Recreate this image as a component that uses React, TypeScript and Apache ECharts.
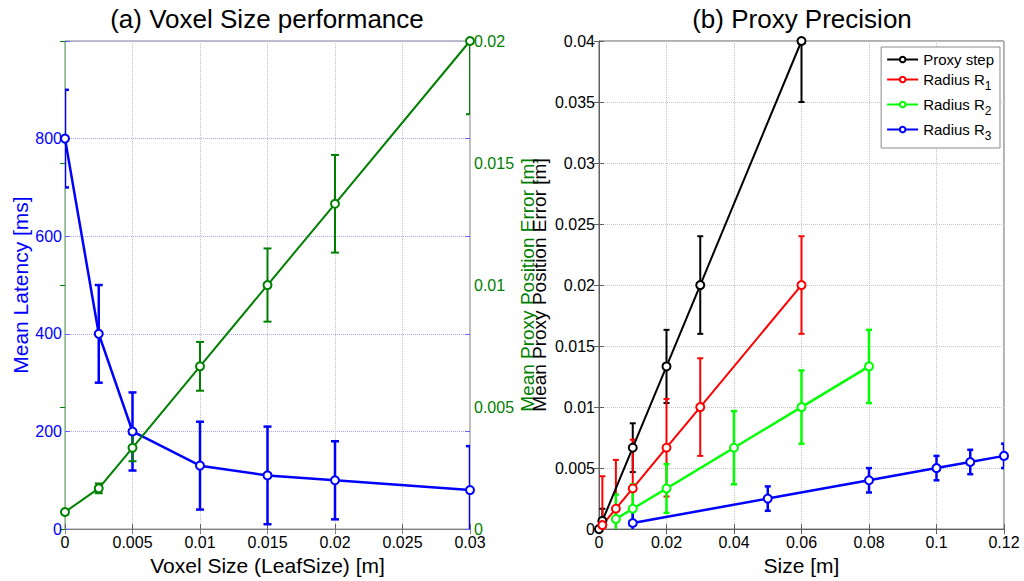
import React, { useEffect, useRef } from 'react';
import * as echarts from 'echarts';

// ---- (a) Voxel Size performance ----
const voxelSizes = [0, 0.0025, 0.005, 0.01, 0.015, 0.02, 0.03];
const latencyMean = [800, 400, 200, 130, 110, 100, 80];
const latencyErr = [100, 100, 80, 90, 100, 80, 90];
const posErrorMean = [0.0007, 0.00167, 0.00333, 0.00667, 0.01, 0.01333, 0.02];
const posErrorErr = [0, 0.0002, 0.00055, 0.001, 0.0015, 0.002, 0.003];

// ---- (b) Proxy Precision ----
const proxyStepX = [0, 0.001, 0.01, 0.02, 0.03, 0.06];
const proxyStepY = [0, 0.00067, 0.00667, 0.01333, 0.02, 0.04];
const proxyStepErr = [0, 0.001, 0.002, 0.003, 0.004, 0.005];

const r1X = [0.001, 0.005, 0.01, 0.02, 0.03, 0.06];
const r1Y = [0.00033, 0.00167, 0.00333, 0.00667, 0.01, 0.02];
const r1Err = [0.004, 0.004, 0.004, 0.004, 0.004, 0.004];

const r2X = [0.005, 0.01, 0.02, 0.04, 0.06, 0.08];
const r2Y = [0.00083, 0.00167, 0.00333, 0.00667, 0.01, 0.01333];
const r2Err = [0.002, 0.002, 0.002, 0.003, 0.003, 0.003];

const r3X = [0.01, 0.05, 0.08, 0.1, 0.11, 0.12];
const r3Y = [0.0005, 0.0025, 0.004, 0.005, 0.0055, 0.006];
const r3Err = [0.0011, 0.001, 0.001, 0.001, 0.001, 0.001];

const seriesNames = ['Proxy step', 'Radius R1', 'Radius R2', 'Radius R3'];

const FONT = 'Liberation Sans, Arial, Helvetica, sans-serif';

function pairs(xs: number[], ys: number[]) {
  return xs.map((x, i) => [x, ys[i]]);
}
function errData(xs: number[], ys: number[], es: number[]) {
  return xs.map((x, i) => [x, ys[i] - es[i], ys[i] + es[i]]);
}

function errorBarSeries(
  name: string | undefined,
  data: number[][],
  color: string,
  xAxisIndex: number,
  yAxisIndex: number,
  capHalf: number,
  lw: number
) {
  return {
    type: 'custom',
    name,
    xAxisIndex,
    yAxisIndex,
    clip: true,
    silent: true,
    encode: { x: 0, y: [1, 2] },
    data,
    renderItem: (params: any, api: any) => {
      const x = api.value(0);
      const lo = api.value(1);
      const hi = api.value(2);
      if (hi - lo <= 0) return { type: 'group', children: [] };
      const pHi = api.coord([x, hi]);
      const pLo = api.coord([x, lo]);
      const style = { stroke: color, lineWidth: lw, fill: 'none' };
      return {
        type: 'group',
        children: [
          { type: 'line', shape: { x1: pHi[0], y1: pHi[1], x2: pLo[0], y2: pLo[1] }, style },
          { type: 'line', shape: { x1: pHi[0] - capHalf, y1: pHi[1], x2: pHi[0] + capHalf, y2: pHi[1] }, style },
          { type: 'line', shape: { x1: pLo[0] - capHalf, y1: pLo[1], x2: pLo[0] + capHalf, y2: pLo[1] }, style },
        ],
      };
    },
  };
}

function lineSeries(
  name: string | undefined,
  data: number[][],
  color: string,
  xAxisIndex: number,
  yAxisIndex: number,
  lw: number,
  size: number
) {
  return {
    type: 'line',
    name,
    xAxisIndex,
    yAxisIndex,
    data,
    symbol: 'emptyCircle',
    symbolSize: size,
    showAllSymbol: true,
    clip: false,
    lineStyle: { color, width: lw },
    itemStyle: { color, borderColor: color, borderWidth: 1.5 },
    emphasis: { disabled: true },
  };
}

export default function App() {
  const ref = useRef<HTMLDivElement>(null);

  useEffect(() => {
    if (!ref.current) return;
    const chart = echarts.init(ref.current, null, { renderer: 'svg' });

    const tickCommon = { inside: true, length: 5 };
    const labelCommon = { fontSize: 16, fontFamily: FONT, color: '#000' };
    const nameCommon = { fontSize: 21, fontFamily: FONT, color: '#000' };
    const rightNameCommon = { fontSize: 19, fontFamily: FONT, color: '#000' };

    const option: any = {
      animation: false,
      backgroundColor: '#ffffff',
      textStyle: { fontFamily: FONT },
      graphic: [
        {
          type: 'text',
          x: 267,
          y: 19,
          style: {
            text: '(a) Voxel Size performance',
            fontSize: 26,
            fontFamily: FONT,
            fill: '#000',
            align: 'center',
            verticalAlign: 'middle',
          },
        },
        {
          type: 'text',
          x: 802,
          y: 19,
          style: {
            text: '(b) Proxy Precision',
            fontSize: 26,
            fontFamily: FONT,
            fill: '#000',
            align: 'center',
            verticalAlign: 'middle',
          },
        },
      ],
      legend: {
        right: 24,
        top: 47,
        orient: 'vertical',
        backgroundColor: '#ffffff',
        borderColor: '#8a8a8a',
        borderWidth: 1,
        borderRadius: 0,
        padding: [5, 6, 6, 5],
        itemGap: 5,
        itemWidth: 31,
        itemHeight: 7,
        data: seriesNames,
        formatter: (name: string) => name.replace(/R(\d)$/, 'R{sub|$1}'),
        textStyle: {
          fontSize: 15,
          fontFamily: FONT,
          color: '#000',
          rich: {
            sub: { fontSize: 12, fontFamily: FONT, color: '#000', padding: [13, 0, 0, 0] },
          },
        },
      },
      grid: [
        { left: 65, right: 554, top: 41, bottom: 47, show: true, borderColor: '#808080', borderWidth: 1, backgroundColor: '#fff' },
        { left: 599, right: 20, top: 41, bottom: 47, show: true, borderColor: '#606060', borderWidth: 1, backgroundColor: '#fff' },
      ],
      xAxis: [
        {
          type: 'value',
          gridIndex: 0,
          min: 0,
          max: 0.03,
          interval: 0.005,
          axisLine: { lineStyle: { color: '#606060', width: 1 } },
          axisTick: { ...tickCommon, lineStyle: { color: '#606060' } },
          axisLabel: { ...labelCommon, margin: 5 },
          splitLine: { show: true, lineStyle: { color: '#c4c4c4', type: 'dotted', width: 1 } },
          name: 'Voxel Size (LeafSize) [m]',
          nameLocation: 'middle',
          nameGap: 21,
          nameTextStyle: nameCommon,
        },
        {
          type: 'value',
          gridIndex: 0,
          position: 'top',
          min: 0,
          max: 0.03,
          interval: 0.005,
          axisLine: { show: true, lineStyle: { color: '#808080', width: 1 } },
          axisTick: { ...tickCommon, lineStyle: { color: '#808080' } },
          axisLabel: { show: false },
          splitLine: { show: false },
        },
        {
          type: 'value',
          gridIndex: 1,
          min: 0,
          max: 0.12,
          interval: 0.02,
          axisLine: { lineStyle: { color: '#606060', width: 1 } },
          axisTick: { ...tickCommon, lineStyle: { color: '#606060' } },
          axisLabel: { ...labelCommon, margin: 5 },
          splitLine: { show: true, lineStyle: { color: '#c4c4c4', type: 'dotted', width: 1 } },
          name: 'Size [m]',
          nameLocation: 'middle',
          nameGap: 21,
          nameTextStyle: nameCommon,
        },
        {
          type: 'value',
          gridIndex: 1,
          position: 'top',
          min: 0,
          max: 0.12,
          interval: 0.02,
          axisLine: { show: true, lineStyle: { color: '#606060', width: 1 } },
          axisTick: { ...tickCommon, lineStyle: { color: '#606060' } },
          axisLabel: { show: false },
          splitLine: { show: false },
        },
      ],
      yAxis: [
        {
          type: 'value',
          gridIndex: 0,
          position: 'left',
          min: 0,
          max: 1000,
          interval: 200,
          axisLine: { show: true, lineStyle: { color: '#8080ff', width: 1 } },
          axisTick: { ...tickCommon, lineStyle: { color: '#6060ff' } },
          axisLabel: {
            ...labelCommon,
            color: '#0000ff',
            margin: 3,
            formatter: (v: number) => (v > 900 ? '' : String(v)),
          },
          splitLine: { show: true, lineStyle: { color: '#a8a8ff', type: 'dotted', width: 1 } },
          name: 'Mean Latency [ms]',
          nameLocation: 'middle',
          nameRotate: 90,
          nameGap: 33,
          nameTextStyle: { ...nameCommon, color: '#0000ff' },
        },
        {
          type: 'value',
          gridIndex: 0,
          position: 'right',
          min: 0,
          max: 0.02,
          interval: 0.005,
          axisLine: { show: true, lineStyle: { color: '#80c080', width: 1 } },
          axisTick: { ...tickCommon, lineStyle: { color: '#008000' } },
          axisLabel: { ...labelCommon, color: '#008000', margin: 4 },
          splitLine: { show: false },
          name: 'Mean Proxy Position Error [m]',
          nameLocation: 'middle',
          nameRotate: 90,
          nameGap: 44,
          nameTextStyle: { ...rightNameCommon, color: '#008000' },
        },
        {
          type: 'value',
          gridIndex: 0,
          position: 'right',
          min: 0,
          max: 1000,
          interval: 200,
          axisLine: { show: false },
          axisTick: { ...tickCommon, lineStyle: { color: '#6060ff' } },
          axisLabel: { show: false },
          splitLine: { show: false },
        },
        {
          type: 'value',
          gridIndex: 1,
          position: 'left',
          min: 0,
          max: 0.04,
          interval: 0.005,
          axisLine: { show: true, lineStyle: { color: '#606060', width: 1 } },
          axisTick: { ...tickCommon, lineStyle: { color: '#606060' } },
          axisLabel: { ...labelCommon, margin: 4 },
          splitLine: { show: true, lineStyle: { color: '#c4c4c4', type: 'dotted', width: 1 } },
          name: 'Mean Proxy Position Error [m]',
          nameLocation: 'middle',
          nameRotate: 90,
          nameGap: 50,
          nameTextStyle: rightNameCommon,
        },
        {
          type: 'value',
          gridIndex: 1,
          position: 'right',
          min: 0,
          max: 0.04,
          interval: 0.005,
          axisLine: { show: true, lineStyle: { color: '#606060', width: 1 } },
          axisTick: { ...tickCommon, lineStyle: { color: '#606060' } },
          axisLabel: { show: false },
          splitLine: { show: false },
        },
      ],
      series: [
        // (a)
        errorBarSeries(undefined, errData(voxelSizes, latencyMean, latencyErr), '#0000ff', 0, 0, 4, 2.5),
        lineSeries(undefined, pairs(voxelSizes, latencyMean), '#0000ff', 0, 0, 2.5, 8),
        errorBarSeries(undefined, errData(voxelSizes, posErrorMean, posErrorErr), '#008000', 0, 1, 4, 2),
        lineSeries(undefined, pairs(voxelSizes, posErrorMean), '#008000', 0, 1, 2, 8),
        // (b)
        errorBarSeries(undefined, errData(proxyStepX, proxyStepY, proxyStepErr), '#000000', 2, 3, 3, 2),
        lineSeries(seriesNames[0], pairs(proxyStepX, proxyStepY), '#000000', 2, 3, 2, 8),
        errorBarSeries(undefined, errData(r1X, r1Y, r1Err), '#ff0000', 2, 3, 3, 2),
        lineSeries(seriesNames[1], pairs(r1X, r1Y), '#ff0000', 2, 3, 2, 8),
        errorBarSeries(undefined, errData(r2X, r2Y, r2Err), '#00ff00', 2, 3, 3, 2.5),
        lineSeries(seriesNames[2], pairs(r2X, r2Y), '#00ff00', 2, 3, 2.5, 8),
        errorBarSeries(undefined, errData(r3X, r3Y, r3Err), '#0000ff', 2, 3, 3, 2.5),
        lineSeries(seriesNames[3], pairs(r3X, r3Y), '#0000ff', 2, 3, 2.5, 8),
      ],
    };

    chart.setOption(option);
    return () => chart.dispose();
  }, []);

  return (
    <div
      ref={ref}
      style={{ position: 'fixed', left: 0, top: 0, width: 1024, height: 581, background: '#fff' }}
    />
  );
}
